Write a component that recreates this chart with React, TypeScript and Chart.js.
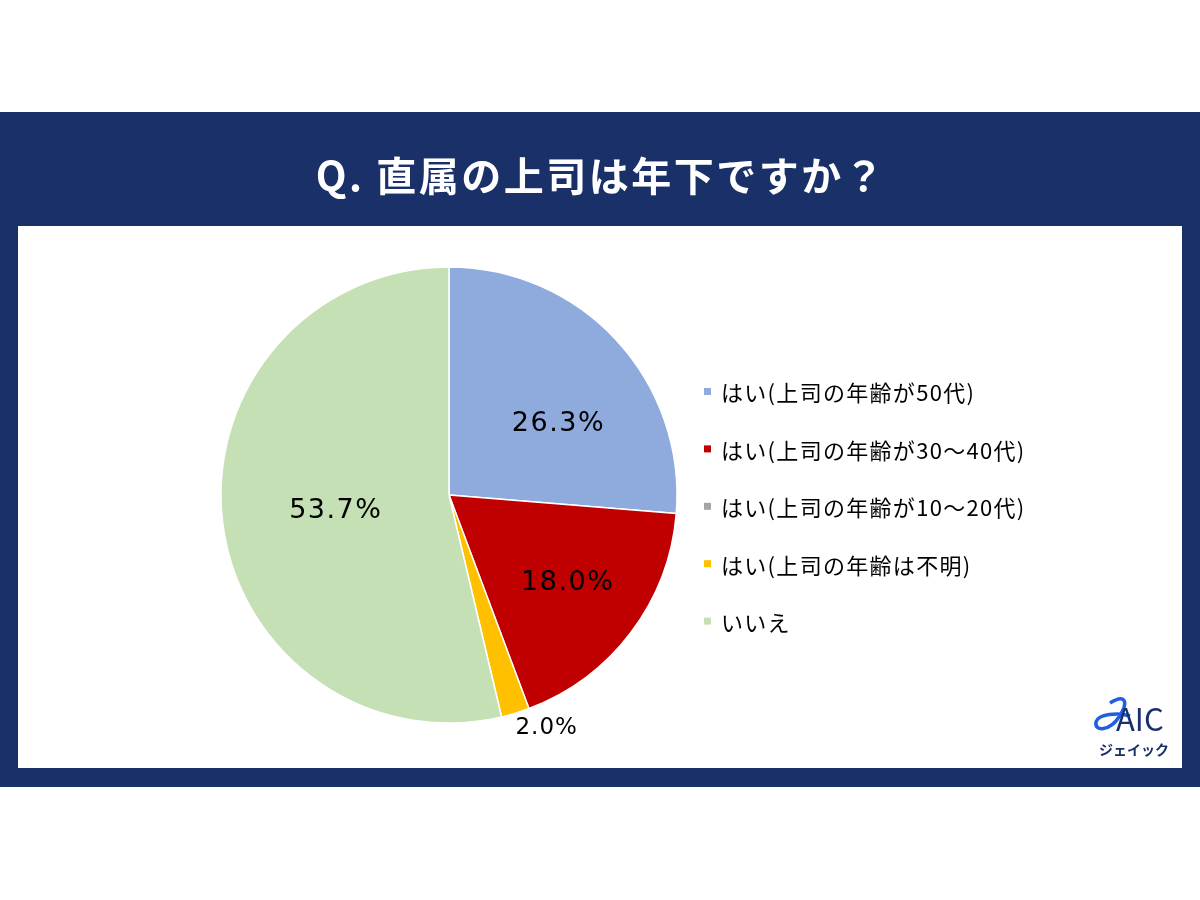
import React, { useEffect, useRef } from "react";
import { Chart, registerables } from "chart.js";

Chart.register(...registerables);

const categories = [
  "はい(上司の年齢が50代)",
  "はい(上司の年齢が30～40代)",
  "はい(上司の年齢が10～20代)",
  "はい(上司の年齢は不明)",
  "いいえ",
];
const values = [26.3, 18.0, 0, 2.0, 53.7];
const colors = ["#8faadc", "#c00000", "#a5a5a5", "#ffc000", "#c5e0b4"];
const title = "Q. 直属の上司は年下ですか？";

// label placement relative to each arc: radius factor and angle shift (deg)
const labelPlace = [
  { r: 0.58, da: 8.5, size: 27, dy: 3 },
  { r: 0.64, da: -1.5, size: 27, dy: 3 },
  { r: 0, da: 0, size: 0, dy: 0 },
  { r: 1.1, da: -6, size: 23, dy: 2 },
  { r: 0.5, da: 0, size: 27, dy: 3 },
];

const NAVY = "#1a3068";
const FONT = '"Noto Sans CJK JP", "Noto Sans", sans-serif';
const NUMFONT = '"DejaVu Sans", "Noto Sans", sans-serif';

const decor = {
  id: "decor",
  beforeDraw(chart: any) {
    const ctx = chart.ctx;
    ctx.save();
    ctx.fillStyle = "#ffffff";
    ctx.fillRect(0, 0, 1200, 900);
    ctx.fillStyle = NAVY;
    ctx.fillRect(0, 112, 1200, 675);
    ctx.fillStyle = "#ffffff";
    ctx.fillRect(18, 226, 1164, 542);
    ctx.fillStyle = "#ffffff";
    ctx.font = `bold 40px ${FONT}`;
    (ctx as any).letterSpacing = "2.5px";
    ctx.textAlign = "center";
    ctx.textBaseline = "middle";
    ctx.fillText(title, 601, 176);
    (ctx as any).letterSpacing = "0px";
    ctx.restore();
  },
  afterDatasetsDraw(chart: any) {
    const ctx = chart.ctx;
    const meta = chart.getDatasetMeta(0);
    ctx.save();
    ctx.fillStyle = "#000000";
    ctx.textAlign = "center";
    ctx.textBaseline = "middle";
    meta.data.forEach((arc: any, i: number) => {
      const v = values[i];
      if (!v) return;
      const p = arc.getProps(["x", "y", "startAngle", "endAngle", "outerRadius"], true);
      const place = labelPlace[i];
      const mid = (p.startAngle + p.endAngle) / 2 + (place.da * Math.PI) / 180;
      const x = p.x + Math.cos(mid) * p.outerRadius * place.r;
      const y = p.y + Math.sin(mid) * p.outerRadius * place.r + place.dy;
      ctx.font = `${place.size}px ${NUMFONT}`;
      (ctx as any).letterSpacing = place.size > 25 ? "1.5px" : "1px";
      ctx.fillText(v.toFixed(1) + "%", x, y);
    });
    (ctx as any).letterSpacing = "0px";
    ctx.restore();
  },
  afterDraw(chart: any) {
    const ctx = chart.ctx;
    ctx.save();
    // legend
    const lx = 704;
    const ly0 = 392;
    const step = 57.4;
    ctx.textAlign = "left";
    ctx.textBaseline = "middle";
    ctx.font = `22px ${FONT}`;
    (ctx as any).letterSpacing = "1.3px";
    categories.forEach((c, i) => {
      const y = ly0 + i * step;
      ctx.fillStyle = colors[i];
      ctx.fillRect(lx, y - 4, 7, 7);
      ctx.fillStyle = "#000000";
      ctx.fillText(c, lx + 17, y + 1);
    });
    (ctx as any).letterSpacing = "0px";
    // logo
    ctx.strokeStyle = "#1f5fe0";
    ctx.lineWidth = 3.5;
    ctx.beginPath();
    ctx.moveTo(1110, 703);
    ctx.bezierCurveTo(1124, 694, 1130, 700, 1119, 717);
    ctx.bezierCurveTo(1110, 731, 1094, 732, 1096, 722);
    ctx.bezierCurveTo(1098, 714, 1118, 712, 1130, 716);
    ctx.stroke();
    ctx.fillStyle = NAVY;
    ctx.font = `31px ${FONT}`;
    ctx.textAlign = "left";
    ctx.fillText("AIC", 1116, 719);
    ctx.font = `bold 14px ${FONT}`;
    ctx.textAlign = "center";
    ctx.fillText("ジェイック", 1134, 750);
    ctx.restore();
  },
};

export default function App() {
  const ref = useRef<HTMLCanvasElement | null>(null);
  useEffect(() => {
    if (!ref.current) return;
    const chart = new Chart(ref.current, {
      type: "pie",
      data: {
        labels: categories,
        datasets: [
          {
            data: values,
            backgroundColor: colors,
            borderColor: "#ffffff",
            borderWidth: 1.5,
            radius: 228,
          } as any,
        ],
      },
      options: {
        responsive: false,
        animation: false,
        events: [],
        layout: { padding: { left: 221, right: 523, top: 267, bottom: 177 } },
        plugins: {
          legend: { display: false },
          tooltip: { enabled: false },
          title: { display: false },
        },
      },
      plugins: [decor],
    });
    return () => chart.destroy();
  }, []);
  return (
    <div style={{ position: "fixed", left: 0, top: 0, width: 1200, height: 900, background: "#fff" }}>
      <canvas ref={ref} width={1200} height={900} style={{ display: "block", width: 1200, height: 900 }} />
    </div>
  );
}
